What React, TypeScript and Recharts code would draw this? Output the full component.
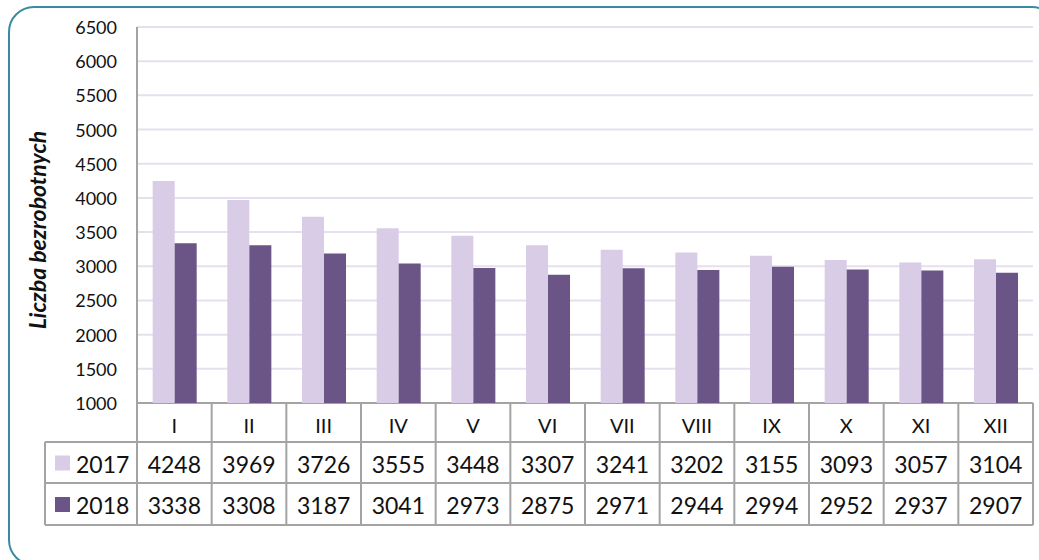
import { BarChart, Bar, XAxis, YAxis, CartesianGrid } from "recharts";

const months = ["I", "II", "III", "IV", "V", "VI", "VII", "VIII", "IX", "X", "XI", "XII"];
const values2017 = [4248, 3969, 3726, 3555, 3448, 3307, 3241, 3202, 3155, 3093, 3057, 3104];
const values2018 = [3338, 3308, 3187, 3041, 2973, 2875, 2971, 2944, 2994, 2952, 2937, 2907];
const yTicks = [1000, 1500, 2000, 2500, 3000, 3500, 4000, 4500, 5000, 5500, 6000, 6500];

const data = months.map((m, i) => ({ month: m, y2017: values2017[i], y2018: values2018[i] }));

const W = 1039;
const H = 560;
const PLOT_LEFT = 137;
const PLOT_RIGHT = 1033;
const PLOT_TOP = 27;
const PLOT_BOTTOM = 403;
const ROW1 = 442;
const ROW2 = 483;
const ROW3 = 525;
const TABLE_LEFT = 45;
const BAND = (PLOT_RIGHT - PLOT_LEFT) / months.length;

const C2017 = "#d8cce6";
const C2018 = "#6a5586";
const LINE = "#a3a3a3";
const FONT = "Lato, 'Open Sans', sans-serif";

// each x tick draws one column of the data table
const TableTick = ({ x, payload }: any) => {
  const i = payload.index;
  const l = x - BAND / 2;
  const r = x + BAND / 2;
  return (
    <g>
      <line x1={r} y1={PLOT_BOTTOM} x2={r} y2={ROW3} stroke={LINE} strokeWidth={2} />
      <text x={x} y={(PLOT_BOTTOM + ROW1) / 2 + 2} textAnchor="middle" dominantBaseline="central" fontSize={20} fill="#111" fontFamily={FONT}>
        {months[i]}
      </text>
      <text x={x} y={(ROW1 + ROW2) / 2 + 1} textAnchor="middle" dominantBaseline="central" fontSize={23} fill="#111" fontFamily={FONT}>
        {values2017[i]}
      </text>
      <text x={x} y={(ROW2 + ROW3) / 2 + 1} textAnchor="middle" dominantBaseline="central" fontSize={23} fill="#111" fontFamily={FONT}>
        {values2018[i]}
      </text>
      {i === 0 && <line x1={l} y1={PLOT_TOP} x2={l} y2={ROW3} stroke={LINE} strokeWidth={2} />}
    </g>
  );
};

const YTick = ({ y, payload }: any) => (
  <text x={PLOT_LEFT - 20} y={y} textAnchor="end" dominantBaseline="central" fontSize={18} fill="#111" fontFamily={FONT}>
    {payload.value}
  </text>
);

export default function App() {
  return (
    <div style={{ position: "fixed", left: 0, top: 0, width: W, height: H, background: "#fff", overflow: "hidden" }}>
      <div
        style={{
          position: "absolute",
          left: 8,
          top: 6,
          width: 1050,
          height: 560,
          border: "2px solid #3a8ba2",
          borderRadius: 26,
          boxSizing: "border-box",
        }}
      />
      <div style={{ position: "absolute", left: 0, top: 0 }}>
        <BarChart
          width={W}
          height={H}
          data={data}
          margin={{ top: PLOT_TOP, right: W - PLOT_RIGHT, left: 0, bottom: H - ROW3 }}
          barCategoryGap="21%"
          barGap={0}
        >
          <CartesianGrid horizontal vertical={false} stroke="#e6e0ee" strokeWidth={2} />
          <YAxis
            type="number"
            domain={[1000, 6500]}
            ticks={yTicks}
            width={PLOT_LEFT}
            axisLine={false}
            tickLine={false}
            tick={<YTick />}
            interval={0}
          />
          <XAxis
            dataKey="month"
            height={ROW3 - PLOT_BOTTOM}
            axisLine={false}
            tickLine={false}
            tick={<TableTick />}
            interval={0}
          />
          <Bar dataKey="y2017" fill={C2017} isAnimationActive={false} />
          <Bar dataKey="y2018" fill={C2018} isAnimationActive={false} />
          {/* table frame and legend column */}
          <g>
            <line x1={PLOT_LEFT} y1={PLOT_BOTTOM} x2={PLOT_RIGHT} y2={PLOT_BOTTOM} stroke={LINE} strokeWidth={2} />
            <line x1={TABLE_LEFT} y1={ROW1} x2={PLOT_RIGHT} y2={ROW1} stroke={LINE} strokeWidth={2} />
            <line x1={TABLE_LEFT} y1={ROW2} x2={PLOT_RIGHT} y2={ROW2} stroke={LINE} strokeWidth={2} />
            <line x1={TABLE_LEFT} y1={ROW3} x2={PLOT_RIGHT} y2={ROW3} stroke={LINE} strokeWidth={2} />
            <line x1={TABLE_LEFT} y1={ROW1} x2={TABLE_LEFT} y2={ROW3} stroke={LINE} strokeWidth={2} />
            <rect x={55} y={(ROW1 + ROW2) / 2 - 7} width={15} height={15} fill={C2017} />
            <rect x={55} y={(ROW2 + ROW3) / 2 - 7} width={15} height={15} fill={C2018} />
            <text x={76} y={(ROW1 + ROW2) / 2 + 1} dominantBaseline="central" fontSize={23} fill="#111" fontFamily={FONT}>
              2017
            </text>
            <text x={76} y={(ROW2 + ROW3) / 2 + 1} dominantBaseline="central" fontSize={23} fill="#111" fontFamily={FONT}>
              2018
            </text>
            <text
              transform="translate(37,230) rotate(-90)"
              textAnchor="middle"
              dominantBaseline="central"
              fontSize={23}
              fontWeight="bold"
              fontStyle="italic"
              fill="#111"
              fontFamily={FONT}
            >
              Liczba bezrobotnych
            </text>
          </g>
        </BarChart>
      </div>
    </div>
  );
}
